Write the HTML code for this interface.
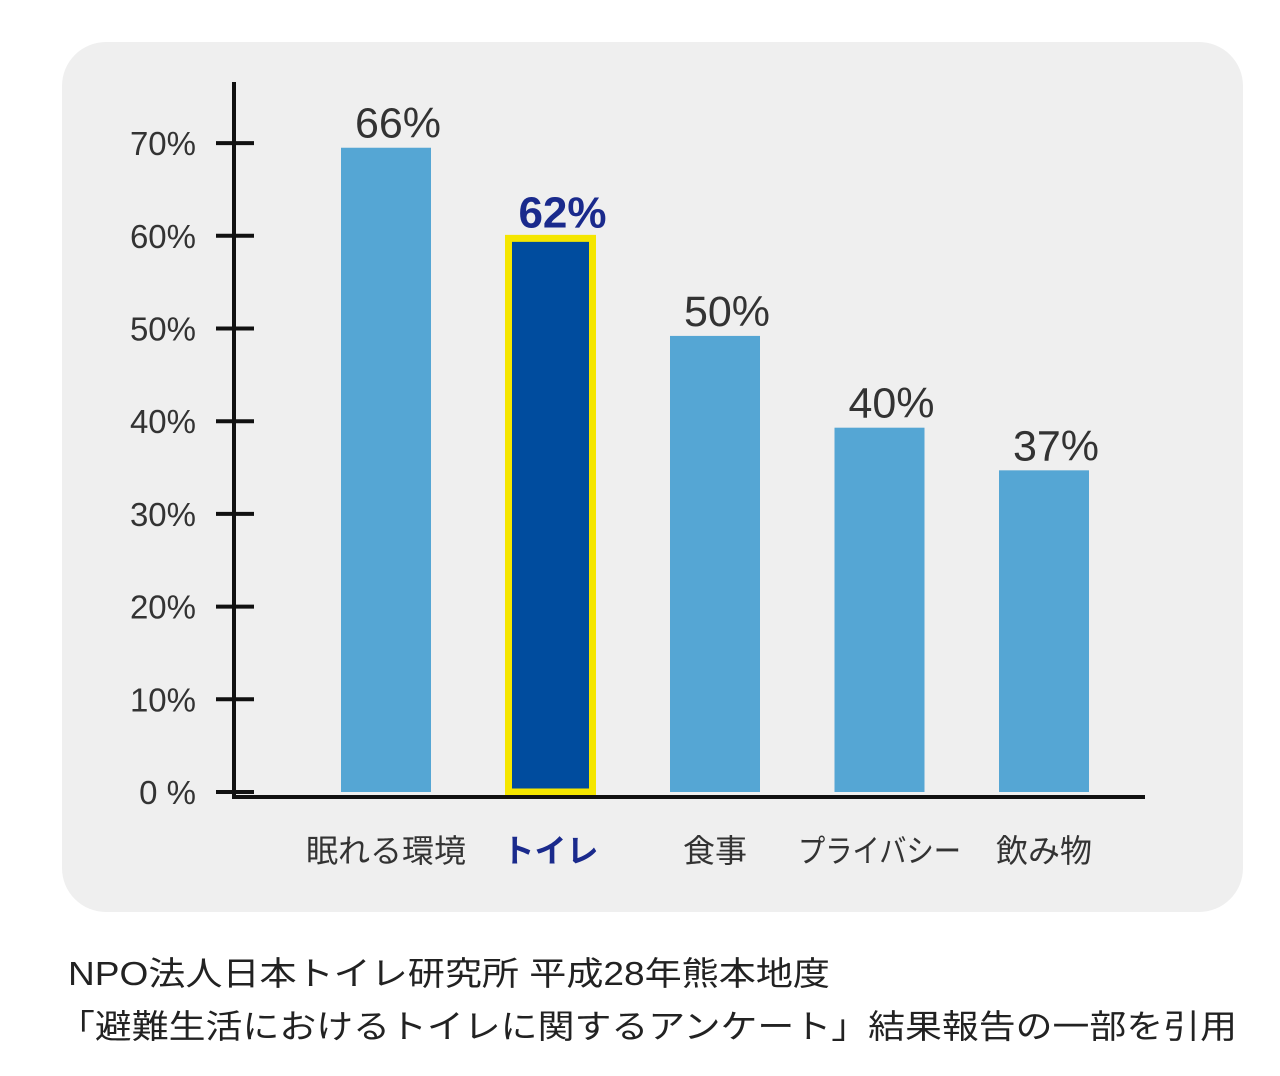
<!DOCTYPE html>
<html><head><meta charset="utf-8"><style>
body{margin:0;background:#fff;width:1280px;height:1076px;overflow:hidden;font-family:"Liberation Sans","Noto Sans CJK JP",sans-serif;}
</style></head><body>
<svg width="1280" height="1076" style="position:absolute;left:0;top:0">
<rect x="62" y="42" width="1181" height="870" rx="44" fill="#efefef"/>
<g id="g"></g>
<text x="68" y="985" font-size="33" fill="#222" textLength="762" lengthAdjust="spacingAndGlyphs">NPO法人日本トイレ研究所 平成28年熊本地度</text>
<text x="58" y="1038" font-size="33" fill="#222" textLength="1179" lengthAdjust="spacingAndGlyphs">「避難生活におけるトイレに関するアンケート」結果報告の一部を引用</text>
</svg>
<script>
const categories=["眠れる環境","トイレ","食事","プライバシー","飲み物"];
const values=[69.5,59.4,49.2,39.3,34.7];
const valueLabels=["66%","62%","50%","40%","37%"];
const tickLabels=["0 %","10%","20%","30%","40%","50%","60%","70%"];
const tickValues=[0,10,20,30,40,50,60,70];
const NS="http://www.w3.org/2000/svg";
const g=document.getElementById('g');
const y=v=>792-v*9.27;
const x=i=>386+i*164.5;
function mk(t,a,txt){const e=document.createElementNS(NS,t);for(const k in a)e.setAttribute(k,a[k]);if(txt!==undefined)e.textContent=txt;g.appendChild(e);return e;}
tickValues.forEach((v,i)=>{
 const t=mk('line',{x1:216,x2:254,y1:y(v),y2:y(v),stroke:'#111','stroke-width':4});
 
 
 const l=mk('text',{x:196,y:y(v)+12,'font-size':33,'text-anchor':'end',fill:'#333'},tickLabels[i]);
 
 
});
categories.forEach((c,i)=>{
 const hi=i===1;
 const b=mk('rect',{x:x(i)-45,y:y(values[i]),width:90,height:y(0)-y(values[i]),fill:hi?'#004c9e':'#55a6d4'});
 if(hi){b.setAttribute('x',x(i)-42);b.setAttribute('width',84);b.setAttribute('stroke','#f5e600');b.setAttribute('stroke-width',7);b.setAttribute('y',y(values[i])-3);b.setAttribute('height',y(0)-y(values[i])+3);}
 
 
 const vl=mk('text',{x:x(i)+12,y:y(values[i])-(hi?14:10),'font-size':hi?44:43,'font-weight':hi?'bold':'normal','text-anchor':'middle',fill:hi?'#1a2a8c':'#333'},valueLabels[i]);
 
 
 const cl=mk('text',{x:x(i),y:862,'font-size':32,'font-weight':hi?'bold':'normal','text-anchor':'middle',fill:hi?'#1a2a8c':'#333'},c);
 if(c.length>5){cl.setAttribute('textLength',163);cl.setAttribute('lengthAdjust','spacingAndGlyphs');}
 
 
});
const ya=mk('line',{x1:234,x2:234,y1:82,y2:799,stroke:'#111','stroke-width':4});


const xa=mk('line',{x1:232,x2:1145,y1:797,y2:797,stroke:'#111','stroke-width':4});


</script>
</body></html>
